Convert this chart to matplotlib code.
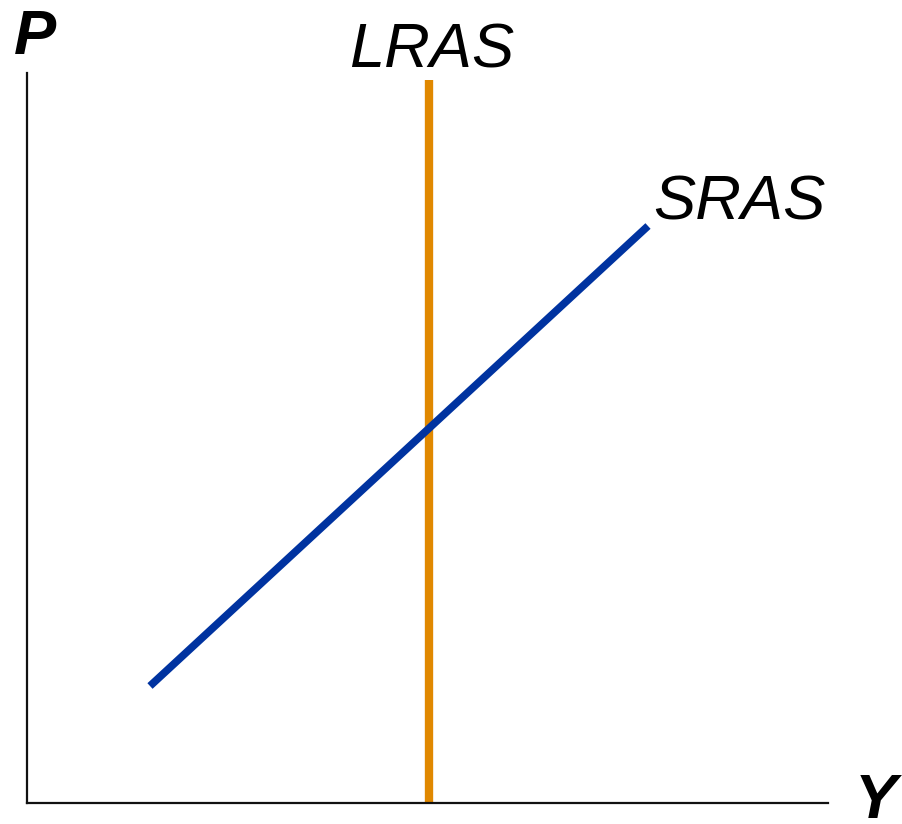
import matplotlib
matplotlib.use("Agg")
import matplotlib.pyplot as plt

# data (pixel-like units measured from the origin of the axes)
lras_x = [402, 402]
lras_y = [0, 723]
sras_x = [123, 621]
sras_y = [117, 577]

W, H = 903, 824
fig = plt.figure(figsize=(W / 100, H / 100), dpi=100)
plt.rcParams['font.family'] = ['Liberation Sans', 'DejaVu Sans']

x0, y0, x1, y1 = 27, 803, 828, 73
ax = fig.add_axes([x0 / W, 1 - y0 / H, (x1 - x0) / W, (y0 - y1) / H])
ax.set_xlim(0, x1 - x0)
ax.set_ylim(0, y0 - y1)

ax.plot(lras_x, lras_y, color='#E08800', lw=6, solid_capstyle='butt')
ax.plot(sras_x, sras_y, color='#0033A0', lw=5.5, solid_capstyle='butt')

for s in ['top', 'right']:
    ax.spines[s].set_visible(False)
for s in ['left', 'bottom']:
    ax.spines[s].set_linewidth(1.6)
    ax.spines[s].set_color('#111111')
ax.set_xticks([])
ax.set_yticks([])


def label(px, py, txt, **kw):
    fig.text(px / W, 1 - py / H, txt, fontsize=45.5, style='italic',
             ha='left', va='baseline', **kw)


label(14, 54, 'P', weight='bold')
label(349, 68, 'LRAS')
label(653, 220, 'SRAS')
label(855, 818, 'Y', weight='bold')

fig.savefig('out.png', dpi=100)
